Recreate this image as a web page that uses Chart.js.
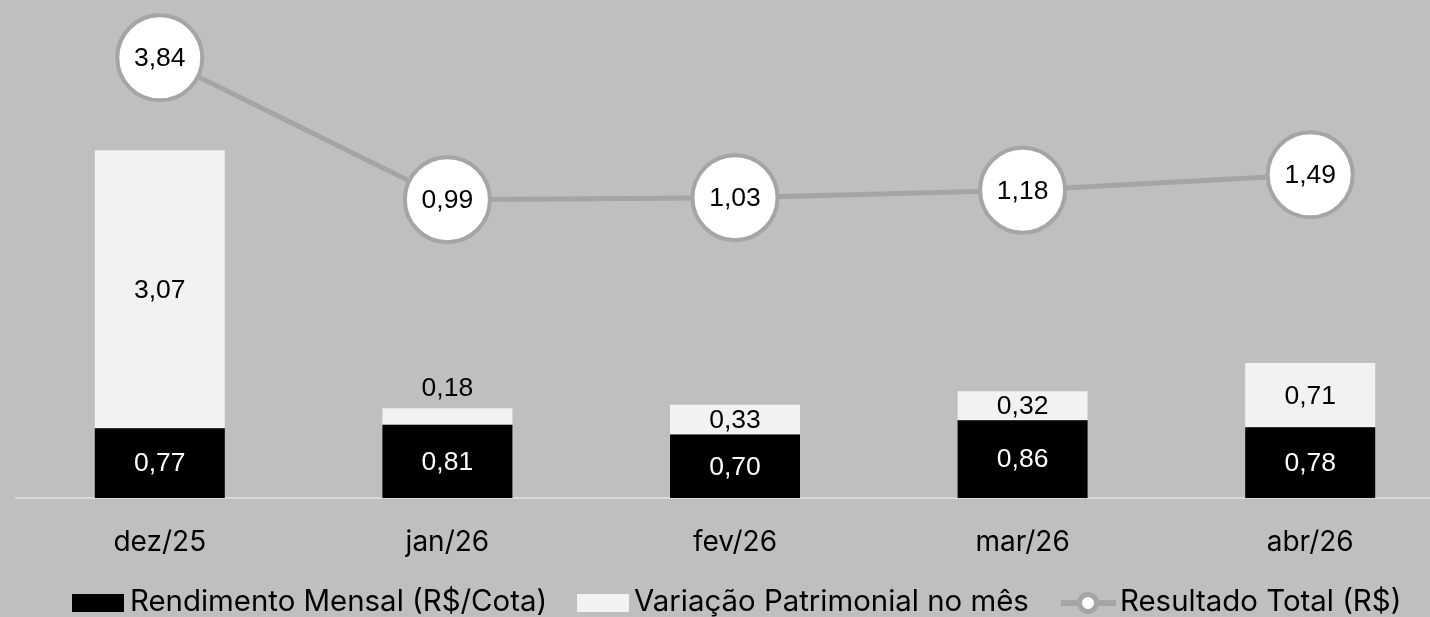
<!DOCTYPE html>
<html>
<head>
<meta charset="utf-8">
<script src="https://cdn.jsdelivr.net/npm/chart.js@4"></script>
<style>
  html, body { margin:0; padding:0; background:#bfbfbf; overflow:hidden; width:1430px; height:617px; }
  #wrap { position:absolute; left:0; top:0; width:1454px; height:617px; }
  .lg { position:absolute; font-family:Inter, "Noto Sans", sans-serif; font-size:29.4px; line-height:28px; color:#000; white-space:nowrap; }
  .sw { position:absolute; }
</style>
</head>
<body>
<div id="wrap"><canvas id="c" width="1454" height="617"></canvas></div>
<div class="sw" style="left:72px;top:594px;width:52px;height:18px;background:#000;"></div>
<div class="lg" style="left:130px;top:587px;">Rendimento Mensal (R$/Cota)</div>
<div class="sw" style="left:577px;top:594px;width:52px;height:18px;background:#f2f2f2;"></div>
<div class="lg" style="left:634px;top:587px;">Variação Patrimonial no mês</div>
<div class="sw" style="left:1061px;top:600px;width:55px;height:6px;background:#a5a5a5;"></div>
<div class="sw" style="left:1077px;top:592px;width:12px;height:12px;border:5px solid #a5a5a5;border-radius:50%;background:#fff;"></div>
<div class="lg" style="left:1120px;top:587px;">Resultado Total (R$)</div>
<script>
const categories = ['dez/25', 'jan/26', 'fev/26', 'mar/26', 'abr/26'];
const rendimento = [0.77, 0.81, 0.70, 0.86, 0.78];
const variacao = [3.07, 0.18, 0.33, 0.32, 0.71];
const resultado = [3.84, 0.99, 1.03, 1.18, 1.49];
const seriesNames = ['Rendimento Mensal (R$/Cota)', 'Variação Patrimonial no mês', 'Resultado Total (R$)'];

const fmt = v => v.toFixed(2).replace('.', ',');

const labelPlugin = {
  id: 'labels',
  afterDatasetsDraw(chart) {
    const ctx = chart.ctx;
    ctx.save();
    ctx.font = '26.5px "Liberation Sans", Arial, sans-serif';
    ctx.textAlign = 'center';
    ctx.textBaseline = 'middle';
    chart.data.datasets.forEach((ds, di) => {
      const meta = chart.getDatasetMeta(di);
      meta.data.forEach((el, i) => {
        const v = ds.data[i];
        if (ds.type === 'line') {
          ctx.fillStyle = '#000';
          ctx.fillText(fmt(v), el.x, el.y + 1);
        } else {
          const top = Math.min(el.y, el.base), bot = Math.max(el.y, el.base);
          const h = bot - top;
          let y = (top + bot) / 2 + 1;
          if (h < 22) y = top - 20;
          ctx.fillStyle = ds.backgroundColor === '#000000' ? '#fff' : '#000';
          ctx.fillText(fmt(v), el.x, y);
        }
      });
    });
    ctx.restore();
  }
};

new Chart(document.getElementById('c'), {
  data: {
    labels: categories,
    datasets: [
      { type: 'line', label: seriesNames[2], data: resultado, yAxisID: 'y2', order: 0,
        borderColor: '#a5a5a5', borderWidth: 5, backgroundColor: '#fff',
        pointRadius: 42.5, pointHoverRadius: 42.5, pointBorderWidth: 4, pointHoverBorderWidth: 4,
        pointBackgroundColor: '#fff', pointBorderColor: '#a5a5a5', tension: 0, clip: false },
      { type: 'bar', label: seriesNames[0], data: rendimento, yAxisID: 'y', order: 1,
        backgroundColor: '#000000', categoryPercentage: 1, barPercentage: 0.452, stack: 's' },
      { type: 'bar', label: seriesNames[1], data: variacao, yAxisID: 'y', order: 1,
        backgroundColor: '#f2f2f2', categoryPercentage: 1, barPercentage: 0.452, stack: 's' }
    ]
  },
  options: {
    responsive: false,
    animation: false,
    devicePixelRatio: 1,
    layout: { autoPadding: false, padding: { left: 16, right: 0, top: 0, bottom: 0 } },
    plugins: { legend: { display: false }, tooltip: { enabled: false } },
    events: [],
    scales: {
      x: {
        stacked: true,
        grid: { display: false },
        border: { display: true, color: '#d9d9d9', width: 2 },
        ticks: { color: '#000', font: { family: 'Inter', size: 28 }, padding: 20 },
        afterFit(s) { s.height = 119; }
      },
      y: { stacked: true, display: false, min: 0, max: 5.5 },
      y2: { display: false, min: -5, max: 5 }
    }
  },
  plugins: [labelPlugin]
});
</script>
</body>
</html>
